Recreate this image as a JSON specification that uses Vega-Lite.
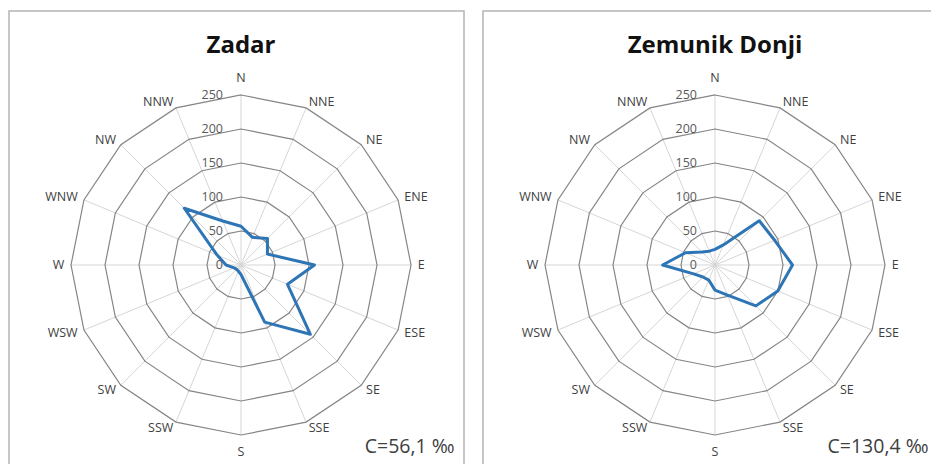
{
  "$schema": "https://vega.github.io/schema/vega-lite/v6.json",
  "background": "white",
  "padding": {"left": 8, "top": 10, "right": 0, "bottom": 0},
  "spacing": 17,
  "config": {
    "view": {"stroke": "#b4b4b4", "strokeWidth": 1.5},
    "text": {"font": "Open Sans"}
  },
  "datasets": {
    "wind": [
      {"station": "Zadar", "dir": "N", "i": 0, "v": 57},
      {"station": "Zadar", "dir": "NNE", "i": 1, "v": 44},
      {"station": "Zadar", "dir": "NE", "i": 2, "v": 55},
      {"station": "Zadar", "dir": "ENE", "i": 3, "v": 42},
      {"station": "Zadar", "dir": "E", "i": 4, "v": 108},
      {"station": "Zadar", "dir": "ESE", "i": 5, "v": 74},
      {"station": "Zadar", "dir": "SE", "i": 6, "v": 144},
      {"station": "Zadar", "dir": "SSE", "i": 7, "v": 91},
      {"station": "Zadar", "dir": "S", "i": 8, "v": 14},
      {"station": "Zadar", "dir": "SSW", "i": 9, "v": 10},
      {"station": "Zadar", "dir": "SW", "i": 10, "v": 9},
      {"station": "Zadar", "dir": "WSW", "i": 11, "v": 11},
      {"station": "Zadar", "dir": "W", "i": 12, "v": 22},
      {"station": "Zadar", "dir": "WNW", "i": 13, "v": 38},
      {"station": "Zadar", "dir": "NW", "i": 14, "v": 118},
      {"station": "Zadar", "dir": "NNW", "i": 15, "v": 70},
      {"station": "Zemunik Donji", "dir": "N", "i": 0, "v": 23},
      {"station": "Zemunik Donji", "dir": "NNE", "i": 1, "v": 32},
      {"station": "Zemunik Donji", "dir": "NE", "i": 2, "v": 92},
      {"station": "Zemunik Donji", "dir": "ENE", "i": 3, "v": 95},
      {"station": "Zemunik Donji", "dir": "E", "i": 4, "v": 114},
      {"station": "Zemunik Donji", "dir": "ESE", "i": 5, "v": 100},
      {"station": "Zemunik Donji", "dir": "SE", "i": 6, "v": 85},
      {"station": "Zemunik Donji", "dir": "SSE", "i": 7, "v": 48},
      {"station": "Zemunik Donji", "dir": "S", "i": 8, "v": 37},
      {"station": "Zemunik Donji", "dir": "SSW", "i": 9, "v": 24},
      {"station": "Zemunik Donji", "dir": "SW", "i": 10, "v": 25},
      {"station": "Zemunik Donji", "dir": "WSW", "i": 11, "v": 34},
      {"station": "Zemunik Donji", "dir": "W", "i": 12, "v": 77},
      {"station": "Zemunik Donji", "dir": "WNW", "i": 13, "v": 47},
      {"station": "Zemunik Donji", "dir": "NW", "i": 14, "v": 27},
      {"station": "Zemunik Donji", "dir": "NNW", "i": 15, "v": 22}
    ],
    "rings": [
      {"ring": 50, "i": [0,1,2,3,4,5,6,7,8,9,10,11,12,13,14,15]},
      {"ring": 100, "i": [0,1,2,3,4,5,6,7,8,9,10,11,12,13,14,15]},
      {"ring": 150, "i": [0,1,2,3,4,5,6,7,8,9,10,11,12,13,14,15]},
      {"ring": 200, "i": [0,1,2,3,4,5,6,7,8,9,10,11,12,13,14,15]},
      {"ring": 250, "i": [0,1,2,3,4,5,6,7,8,9,10,11,12,13,14,15]}
    ],
    "ticks": [{"v": 0}, {"v": 50}, {"v": 100}, {"v": 150}, {"v": 200}, {"v": 250}],
    "stations": [
      {"station": "Zadar", "calm": "C=56,1 ‰"},
      {"station": "Zemunik Donji", "calm": "C=130,4 ‰"}
    ]
  },
  "hconcat": [
    {
      "width": 455,
      "height": 454,
      "layer": [
        {
          "data": {"name": "wind"},
          "transform": [
            {"filter": "datum.station == 'Zadar'"},
            {"calculate": "0", "as": "o"},
            {"calculate": "250 * sin(datum.i * PI / 8)", "as": "ex"},
            {"calculate": "250 * cos(datum.i * PI / 8)", "as": "ey"}
          ],
          "mark": {"type": "rule", "color": "#d6d6d6", "strokeWidth": 1},
          "encoding": {
            "x": {"field": "o", "type": "quantitative", "scale": {"domain": [-341.2, 327.9], "nice": false, "zero": false}, "axis": null},
            "y": {"field": "o", "type": "quantitative", "scale": {"domain": [-294.1, 373.5], "nice": false, "zero": false}, "axis": null},
            "x2": {"field": "ex"},
            "y2": {"field": "ey"}
          }
        },
        {
          "data": {"name": "rings"},
          "transform": [
            {"flatten": ["i"]},
            {"calculate": "datum.ring * sin(datum.i * PI / 8)", "as": "x"},
            {"calculate": "datum.ring * cos(datum.i * PI / 8)", "as": "y"}
          ],
          "mark": {"type": "line", "interpolate": "linear-closed", "color": "#858585", "strokeWidth": 1.2},
          "encoding": {
            "x": {"field": "x", "type": "quantitative", "axis": null},
            "y": {"field": "y", "type": "quantitative", "axis": null},
            "detail": {"field": "ring", "type": "nominal"},
            "order": {"field": "i", "type": "quantitative"}
          }
        },
        {
          "data": {"name": "wind"},
          "transform": [
            {"filter": "datum.station == 'Zadar'"},
            {"calculate": "datum.v * sin(datum.i * PI / 8)", "as": "x"},
            {"calculate": "datum.v * cos(datum.i * PI / 8)", "as": "y"}
          ],
          "mark": {"type": "line", "interpolate": "linear-closed", "color": "#2e75b6", "strokeWidth": 3, "strokeJoin": "round"},
          "encoding": {
            "x": {"field": "x", "type": "quantitative", "axis": null},
            "y": {"field": "y", "type": "quantitative", "axis": null},
            "order": {"field": "i", "type": "quantitative"}
          }
        },
        {
          "data": {"name": "ticks"},
          "transform": [{"calculate": "0", "as": "o"}],
          "mark": {"type": "text", "align": "right", "baseline": "middle", "dx": -18, "fontSize": 12.5, "color": "#595959"},
          "encoding": {
            "x": {"field": "o", "type": "quantitative", "axis": null},
            "y": {"field": "v", "type": "quantitative", "axis": null},
            "text": {"field": "v", "type": "quantitative"}
          }
        },
        {
          "data": {"name": "wind"},
          "transform": [
            {"filter": "datum.station == 'Zadar' && datum.i > 0 && datum.i < 8"},
            {"calculate": "260 * sin(datum.i * PI / 8)", "as": "lx"},
            {"calculate": "260 * cos(datum.i * PI / 8)", "as": "ly"}
          ],
          "mark": {"type": "text", "align": "left", "baseline": "middle", "fontSize": 12.5, "color": "#404040"},
          "encoding": {
            "x": {"field": "lx", "type": "quantitative", "axis": null},
            "y": {"field": "ly", "type": "quantitative", "axis": null},
            "text": {"field": "dir", "type": "nominal"}
          }
        },
        {
          "data": {"name": "wind"},
          "transform": [
            {"filter": "datum.station == 'Zadar' && datum.i > 8"},
            {"calculate": "260 * sin(datum.i * PI / 8)", "as": "lx"},
            {"calculate": "260 * cos(datum.i * PI / 8)", "as": "ly"}
          ],
          "mark": {"type": "text", "align": "right", "baseline": "middle", "fontSize": 12.5, "color": "#404040"},
          "encoding": {
            "x": {"field": "lx", "type": "quantitative", "axis": null},
            "y": {"field": "ly", "type": "quantitative", "axis": null},
            "text": {"field": "dir", "type": "nominal"}
          }
        },
        {
          "data": {"name": "wind"},
          "transform": [
            {"filter": "datum.station == 'Zadar' && (datum.i == 0 || datum.i == 8)"},
            {"calculate": "0", "as": "lx"},
            {"calculate": "275 * cos(datum.i * PI / 8)", "as": "ly"}
          ],
          "mark": {"type": "text", "align": "center", "baseline": "middle", "fontSize": 12.5, "color": "#404040"},
          "encoding": {
            "x": {"field": "lx", "type": "quantitative", "axis": null},
            "y": {"field": "ly", "type": "quantitative", "axis": null},
            "text": {"field": "dir", "type": "nominal"}
          }
        },
        {
          "data": {"name": "stations"},
          "transform": [
            {"filter": "datum.station == 'Zadar'"},
            {"calculate": "0", "as": "tx"},
            {"calculate": "312", "as": "ty"}
          ],
          "mark": {"type": "text", "align": "center", "baseline": "alphabetic", "fontSize": 24, "fontWeight": "bold", "color": "#111111"},
          "encoding": {
            "x": {"field": "tx", "type": "quantitative", "axis": null},
            "y": {"field": "ty", "type": "quantitative", "axis": null},
            "text": {"field": "station", "type": "nominal"}
          }
        },
        {
          "data": {"name": "stations"},
          "transform": [
            {"filter": "datum.station == 'Zadar'"},
            {"calculate": "314", "as": "tx"},
            {"calculate": "-277", "as": "ty"}
          ],
          "mark": {"type": "text", "align": "right", "baseline": "alphabetic", "fontSize": 19.5, "color": "#404040"},
          "encoding": {
            "x": {"field": "tx", "type": "quantitative", "axis": null},
            "y": {"field": "ty", "type": "quantitative", "axis": null},
            "text": {"field": "calm", "type": "nominal"}
          }
        }
      ]
    },
    {
      "width": 451,
      "height": 454,
      "layer": [
        {
          "data": {"name": "wind"},
          "transform": [
            {"filter": "datum.station == 'Zemunik Donji'"},
            {"calculate": "0", "as": "o"},
            {"calculate": "250 * sin(datum.i * PI / 8)", "as": "ex"},
            {"calculate": "250 * cos(datum.i * PI / 8)", "as": "ey"}
          ],
          "mark": {"type": "rule", "color": "#d6d6d6", "strokeWidth": 1},
          "encoding": {
            "x": {"field": "o", "type": "quantitative", "scale": {"domain": [-341.2, 322.1], "nice": false, "zero": false}, "axis": null},
            "y": {"field": "o", "type": "quantitative", "scale": {"domain": [-294.1, 373.5], "nice": false, "zero": false}, "axis": null},
            "x2": {"field": "ex"},
            "y2": {"field": "ey"}
          }
        },
        {
          "data": {"name": "rings"},
          "transform": [
            {"flatten": ["i"]},
            {"calculate": "datum.ring * sin(datum.i * PI / 8)", "as": "x"},
            {"calculate": "datum.ring * cos(datum.i * PI / 8)", "as": "y"}
          ],
          "mark": {"type": "line", "interpolate": "linear-closed", "color": "#858585", "strokeWidth": 1.2},
          "encoding": {
            "x": {"field": "x", "type": "quantitative", "axis": null},
            "y": {"field": "y", "type": "quantitative", "axis": null},
            "detail": {"field": "ring", "type": "nominal"},
            "order": {"field": "i", "type": "quantitative"}
          }
        },
        {
          "data": {"name": "wind"},
          "transform": [
            {"filter": "datum.station == 'Zemunik Donji'"},
            {"calculate": "datum.v * sin(datum.i * PI / 8)", "as": "x"},
            {"calculate": "datum.v * cos(datum.i * PI / 8)", "as": "y"}
          ],
          "mark": {"type": "line", "interpolate": "linear-closed", "color": "#2e75b6", "strokeWidth": 3, "strokeJoin": "round"},
          "encoding": {
            "x": {"field": "x", "type": "quantitative", "axis": null},
            "y": {"field": "y", "type": "quantitative", "axis": null},
            "order": {"field": "i", "type": "quantitative"}
          }
        },
        {
          "data": {"name": "ticks"},
          "transform": [{"calculate": "0", "as": "o"}],
          "mark": {"type": "text", "align": "right", "baseline": "middle", "dx": -18, "fontSize": 12.5, "color": "#595959"},
          "encoding": {
            "x": {"field": "o", "type": "quantitative", "axis": null},
            "y": {"field": "v", "type": "quantitative", "axis": null},
            "text": {"field": "v", "type": "quantitative"}
          }
        },
        {
          "data": {"name": "wind"},
          "transform": [
            {"filter": "datum.station == 'Zemunik Donji' && datum.i > 0 && datum.i < 8"},
            {"calculate": "260 * sin(datum.i * PI / 8)", "as": "lx"},
            {"calculate": "260 * cos(datum.i * PI / 8)", "as": "ly"}
          ],
          "mark": {"type": "text", "align": "left", "baseline": "middle", "fontSize": 12.5, "color": "#404040"},
          "encoding": {
            "x": {"field": "lx", "type": "quantitative", "axis": null},
            "y": {"field": "ly", "type": "quantitative", "axis": null},
            "text": {"field": "dir", "type": "nominal"}
          }
        },
        {
          "data": {"name": "wind"},
          "transform": [
            {"filter": "datum.station == 'Zemunik Donji' && datum.i > 8"},
            {"calculate": "260 * sin(datum.i * PI / 8)", "as": "lx"},
            {"calculate": "260 * cos(datum.i * PI / 8)", "as": "ly"}
          ],
          "mark": {"type": "text", "align": "right", "baseline": "middle", "fontSize": 12.5, "color": "#404040"},
          "encoding": {
            "x": {"field": "lx", "type": "quantitative", "axis": null},
            "y": {"field": "ly", "type": "quantitative", "axis": null},
            "text": {"field": "dir", "type": "nominal"}
          }
        },
        {
          "data": {"name": "wind"},
          "transform": [
            {"filter": "datum.station == 'Zemunik Donji' && (datum.i == 0 || datum.i == 8)"},
            {"calculate": "0", "as": "lx"},
            {"calculate": "275 * cos(datum.i * PI / 8)", "as": "ly"}
          ],
          "mark": {"type": "text", "align": "center", "baseline": "middle", "fontSize": 12.5, "color": "#404040"},
          "encoding": {
            "x": {"field": "lx", "type": "quantitative", "axis": null},
            "y": {"field": "ly", "type": "quantitative", "axis": null},
            "text": {"field": "dir", "type": "nominal"}
          }
        },
        {
          "data": {"name": "stations"},
          "transform": [
            {"filter": "datum.station == 'Zemunik Donji'"},
            {"calculate": "0", "as": "tx"},
            {"calculate": "312", "as": "ty"}
          ],
          "mark": {"type": "text", "align": "center", "baseline": "alphabetic", "fontSize": 24, "fontWeight": "bold", "color": "#111111"},
          "encoding": {
            "x": {"field": "tx", "type": "quantitative", "axis": null},
            "y": {"field": "ty", "type": "quantitative", "axis": null},
            "text": {"field": "station", "type": "nominal"}
          }
        },
        {
          "data": {"name": "stations"},
          "transform": [
            {"filter": "datum.station == 'Zemunik Donji'"},
            {"calculate": "314", "as": "tx"},
            {"calculate": "-277", "as": "ty"}
          ],
          "mark": {"type": "text", "align": "right", "baseline": "alphabetic", "fontSize": 19.5, "color": "#404040"},
          "encoding": {
            "x": {"field": "tx", "type": "quantitative", "axis": null},
            "y": {"field": "ty", "type": "quantitative", "axis": null},
            "text": {"field": "calm", "type": "nominal"}
          }
        }
      ]
    }
  ]
}
